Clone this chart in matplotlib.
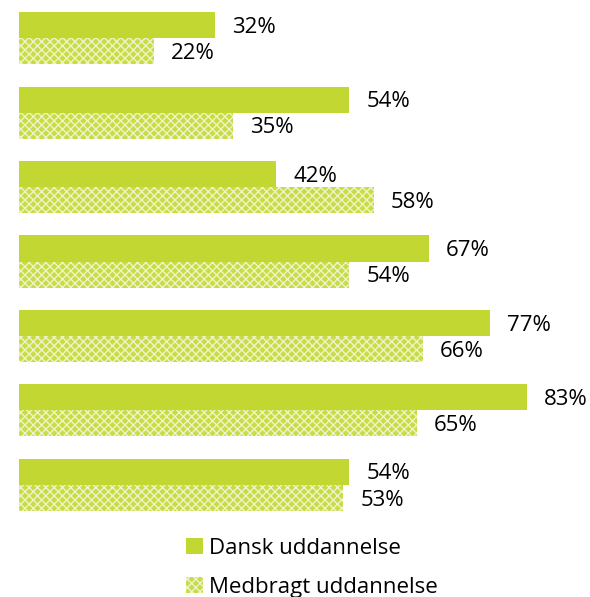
import matplotlib.pyplot as plt
import matplotlib.patches as mpatches
import numpy as np

plt.rcParams['font.family'] = ['Open Sans', 'DejaVu Sans']
plt.rcParams['hatch.linewidth'] = 1.0

dansk = [32, 54, 42, 67, 77, 83, 54]
medbragt = [22, 35, 58, 54, 66, 65, 53]
labels = ['Dansk uddannelse', 'Medbragt uddannelse']

green = '#C2D732'
hatch_face = '#C8DC45'
hatch_col = '#EEF4C8'

fig = plt.figure(figsize=(5.9, 5.97), dpi=100)
W, H = 590, 597
ax = fig.add_axes([19 / W, 75 / H, 612 / W, 521 / H])

y = np.arange(len(dansk))
h = 0.35
ax.barh(y - h / 2, dansk, height=h, color=green, linewidth=0)
ax.barh(y + h / 2, medbragt, height=h, facecolor=hatch_face, edgecolor=hatch_col,
        hatch='xxxx', linewidth=0)

for i in range(len(dansk)):
    ax.text(dansk[i] + 2.8, y[i] - h / 2 + 0.03, f'{dansk[i]}%', va='center', ha='left',
            fontsize=16, clip_on=False)
    ax.text(medbragt[i] + 2.8, y[i] + h / 2 + 0.03, f'{medbragt[i]}%', va='center', ha='left',
            fontsize=16, clip_on=False)

ax.set_xlim(0, 100)
ax.set_ylim(6.5, -0.5)
ax.axis('off')

handles = [mpatches.Patch(facecolor=green, linewidth=0),
           mpatches.Patch(facecolor=hatch_face, edgecolor=hatch_col, hatch='xxxx', linewidth=0)]
fig.legend(handles, labels, loc='upper left', bbox_to_anchor=(177 / W, 1 - 529 / H),
           frameon=False, fontsize=16, handlelength=0.75, handleheight=0.75,
           handletextpad=0.3, labelspacing=0.8, borderaxespad=0)

fig.savefig('out.png', dpi=100)
